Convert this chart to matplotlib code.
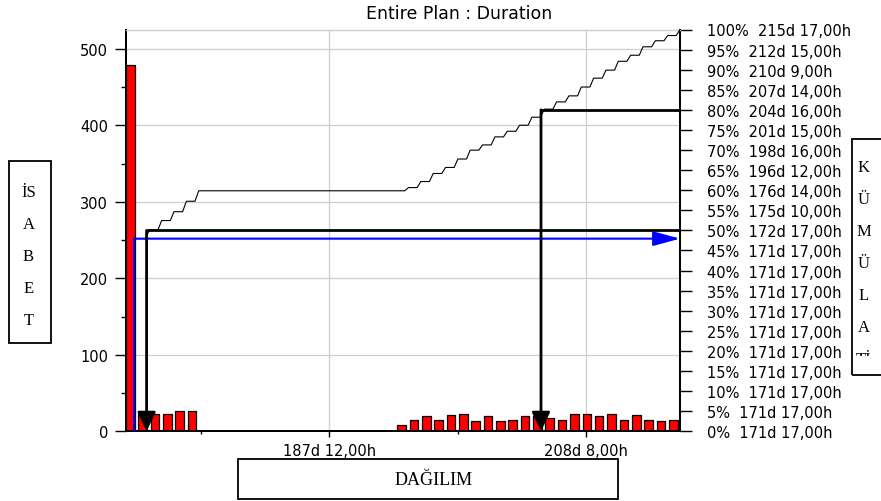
import numpy as np
import matplotlib
matplotlib.use('Agg')
import matplotlib.pyplot as plt
from matplotlib.patches import Rectangle
from matplotlib.ticker import FixedLocator

# ------------------------------------------------------------------
# Data
# ------------------------------------------------------------------
# Histogram: one bin per day, first bin centred at 171.38 d
BIN_FIRST_CENTER = 171.38
BIN_STEP = 1.0
COUNTS = [479, 22, 23, 22, 26, 26,
          0, 0, 0, 0, 0, 0, 0, 0, 0, 0, 0, 0, 0, 0, 0, 0,
          8, 15, 20, 15, 21, 22, 13, 20, 14, 15, 20, 20,
          18, 15, 22, 22, 20, 22, 15, 21, 15, 13, 15]

MIN_DAY = 171 + 17 / 24.0      # 171d 17,00h  (0%)
P50_DAY = 172 + 17 / 24.0      # 172d 17,00h
P80_DAY = 204 + 16 / 24.0      # 204d 16,00h
X_RANGE = (171.04, 215.93)

X_MAJOR = [187.5, 208 + 8 / 24.0]
X_MAJOR_LABELS = ['187d 12,00h', '208d 8,00h']
X_MINOR = [177 + 2 / 24.0, 197 + 22 / 24.0]

PCT_LEVELS = list(range(0, 101, 5))
PCT_LABELS = [
    '0%  171d 17,00h', '5%  171d 17,00h', '10%  171d 17,00h',
    '15%  171d 17,00h', '20%  171d 17,00h', '25%  171d 17,00h',
    '30%  171d 17,00h', '35%  171d 17,00h', '40%  171d 17,00h',
    '45%  171d 17,00h', '50%  172d 17,00h', '55%  175d 10,00h',
    '60%  176d 14,00h', '65%  196d 12,00h', '70%  198d 16,00h',
    '75%  201d 15,00h', '80%  204d 16,00h', '85%  207d 14,00h',
    '90%  210d 9,00h', '95%  212d 15,00h', '100%  215d 17,00h',
]

LEFT_BOX_TEXT = ['İS', 'A', 'B', 'E', 'T']
RIGHT_BOX_TEXT = ['K', 'Ü', 'M', 'Ü', 'L', 'A', 'Tİ']
BOTTOM_BOX_TEXT = 'DAĞILIM'
TITLE = 'Entire Plan : Duration'

# ------------------------------------------------------------------
W, H = 881, 502
C_BAR = '#ff0000'
C_GRID = '#cfcfcf'
C_BLUE = '#0000ff'
TICK_FONT = {'family': 'DejaVu Sans', 'size': 10.5}
SERIF = 'Liberation Serif'


def fx(px):
    return px / W


def fy(py):
    return 1 - py / H


counts = np.array(COUNTS, dtype=float)
centers = BIN_FIRST_CENTER + BIN_STEP * np.arange(len(counts))
cum_pct = np.cumsum(counts) / counts.sum() * 100.0

# cumulative curve: jump at min value, then a short riser per filled bin
cx, cy = [MIN_DAY, MIN_DAY], [0.0, cum_pct[0]]
for k in range(1, len(counts)):
    if counts[k] <= 0:
        continue
    cx += [centers[k] + 0.25, centers[k] + 0.55]
    cy += [cum_pct[k - 1], cum_pct[k]]

fig = plt.figure(figsize=(W / 100, H / 100), dpi=100)
ax = fig.add_axes([fx(126), fy(432.3), fx(680) - fx(126), fy(30.5) - fy(432.3)])
ax2 = ax.twinx()

# bars on the count axis
ax.bar(centers, counts, width=0.7, color=C_BAR, edgecolor='black', linewidth=0.9, zorder=3)
ax.set_xlim(*X_RANGE)
ax.set_ylim(0, 525.5)
ax.set_yticks([0, 100, 200, 300, 400, 500])
ax.yaxis.set_minor_locator(FixedLocator([50, 150, 250, 350, 450]))
ax.set_xticks(X_MAJOR)
ax.set_xticklabels(X_MAJOR_LABELS)
ax.xaxis.set_minor_locator(FixedLocator(X_MINOR))
ax.grid(True, which='major', color=C_GRID, linewidth=0.9, zorder=0)
ax.set_axisbelow(True)
ax.tick_params(axis='y', which='major', length=8, width=1, pad=5, labelsize=TICK_FONT['size'])
ax.tick_params(axis='y', which='minor', length=3.6, width=1)
ax.tick_params(axis='x', which='major', length=4.5, width=1, pad=4, labelsize=TICK_FONT['size'])
ax.tick_params(axis='x', which='minor', length=2.2, width=1)
for lab in ax.get_xticklabels() + ax.get_yticklabels():
    lab.set_family(TICK_FONT['family'])

# percent axis
ax2.set_ylim(0, 100)
ax2.set_yticks(PCT_LEVELS)
ax2.set_yticklabels(PCT_LABELS)
ax2.tick_params(axis='y', length=8.6, width=1, pad=11, labelsize=TICK_FONT['size'])
for lab in ax2.get_yticklabels():
    lab.set_family(TICK_FONT['family'])

for a in (ax, ax2):
    for side in ('left', 'bottom', 'right'):
        a.spines[side].set_linewidth(1.4)
        a.spines[side].set_color('black')
    a.spines['top'].set_color(C_GRID)
    a.spines['top'].set_linewidth(0.9)

# cumulative curve
ax2.plot(cx, cy, color='black', linewidth=0.8, zorder=3)

# blue certainty marker (first-bin cumulative level)
lvl = cum_pct[0]
ax2.plot([MIN_DAY, MIN_DAY], [0, lvl], color=C_BLUE, linewidth=1.5, zorder=5)
ax2.annotate('', xy=(X_RANGE[1], lvl), xytext=(MIN_DAY, lvl),
             arrowprops=dict(arrowstyle='-|>,head_length=1.65,head_width=0.45',
                             mutation_scale=10, color=C_BLUE, lw=1.5,
                             shrinkA=0, shrinkB=0), zorder=5)

# 50% and 80% markers
for day, pct in ((P50_DAY, 50), (P80_DAY, 80)):
    ax2.plot([day, X_RANGE[1]], [pct, pct], color='black', linewidth=2.0, zorder=4,
             solid_capstyle='butt')
    ax2.annotate('', xy=(day, 0), xytext=(day, pct),
                 arrowprops=dict(arrowstyle='-|>,head_length=1.15,head_width=0.55',
                                 mutation_scale=10, color='black', lw=2.0,
                                 shrinkA=0, shrinkB=0), zorder=6)

# title
fig.text(fx(459), fy(14), TITLE, ha='center', va='center',
         family='DejaVu Sans', fontsize=12.5)

# boxed axis captions
fig.patches.append(Rectangle((fx(9), fy(344)), fx(50.7) - fx(9), fy(161.7) - fy(344),
                             transform=fig.transFigure, fill=False,
                             edgecolor='black', linewidth=1.3))
for i, t in enumerate(LEFT_BOX_TEXT):
    fig.text(fx(28.5), fy(193 + 32 * i), t, ha='center', va='center',
             family=SERIF, fontsize=12)

fig.patches.append(Rectangle((fx(851.7), fy(376)), fx(890) - fx(851.7), fy(140) - fy(376),
                             transform=fig.transFigure, fill=False,
                             edgecolor='black', linewidth=1.3))
clip = Rectangle((fx(852), fy(356.5)), fx(881) - fx(852), fy(141) - fy(356.5),
                 transform=fig.transFigure, fill=False, visible=False)
fig.patches.append(clip)
for i, t in enumerate(RIGHT_BOX_TEXT):
    txt = fig.text(fx(863.5), fy(168 + 32 * i), t, ha='center', va='center',
                   family=SERIF, fontsize=12)
    txt.set_clip_path(clip)
    txt.set_clip_on(True)

fig.patches.append(Rectangle((fx(238.3), fy(500)), fx(618.3) - fx(238.3), fy(460) - fy(500),
                             transform=fig.transFigure, fill=False,
                             edgecolor='black', linewidth=1.3))
fig.text(fx(434), fy(481), BOTTOM_BOX_TEXT, ha='center', va='center',
         family=SERIF, fontsize=13)

fig.savefig('out.png', dpi=100, facecolor='white')
